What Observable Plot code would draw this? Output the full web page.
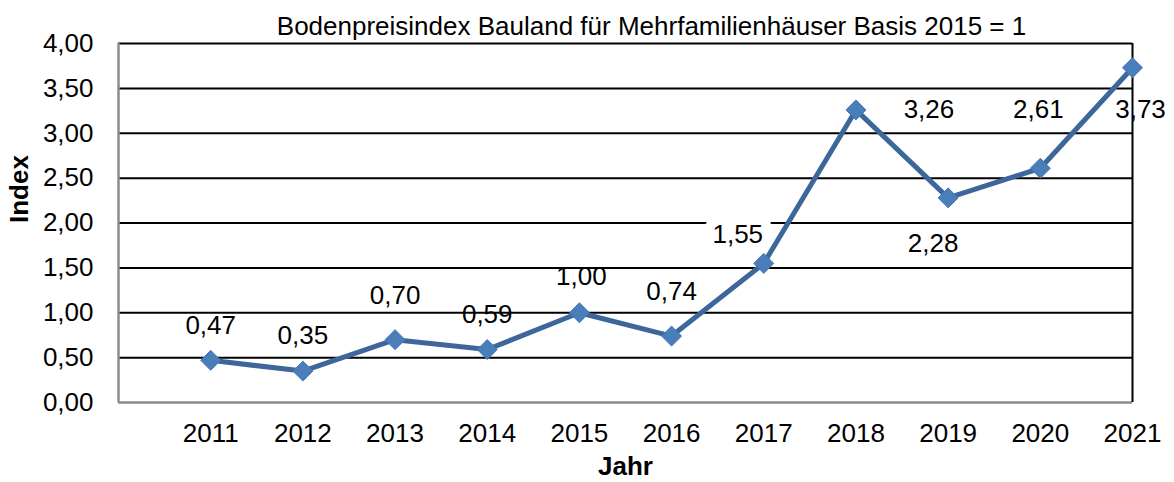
<!DOCTYPE html>
<html>
<head>
<meta charset="utf-8">
<script src="https://cdn.jsdelivr.net/npm/d3@7"></script>
<script src="https://cdn.jsdelivr.net/npm/@observablehq/plot@0.6"></script>
<style>
  html, body { margin: 0; padding: 0; background: #fff; }
  svg { display: block; }
</style>
</head>
<body>
<div id="chart"></div>
<script>
const titleText = "Bodenpreisindex Bauland für Mehrfamilienhäuser Basis 2015 = 1";
const xLabel = "Jahr";
const yLabel = "Index";
const years = [2011, 2012, 2013, 2014, 2015, 2016, 2017, 2018, 2019, 2020, 2021];
const values = [0.47, 0.35, 0.70, 0.59, 1.00, 0.74, 1.55, 3.26, 2.28, 2.61, 3.73];
const yTicks = [0, 0.5, 1, 1.5, 2, 2.5, 3, 3.5, 4];
// label placement offsets (px) for the value labels
const labelDx = [0, 0, 0, 0, 2, 0, -26, 73, -15, -2, 8];
const labelDy = [-35, -35, -44, -35, -36, -44, -29, 0, 46, -59, 42];
const labelHalo = [false, false, false, false, false, false, true, false, false, false, false];

const fmt = v => v.toFixed(2).replace(".", ",");
const data = years.map((y, i) => ({year: y, value: values[i]}));

const FONT = "Liberation Sans, Arial, sans-serif";
const FS = 26;

const labelMarks = data.map((d, i) => Plot.text([d], {
  x: "year", y: "value", text: d => fmt(d.value),
  dx: labelDx[i], dy: labelDy[i], fontSize: FS, fill: "#000", lineAnchor: "middle",
  ...(labelHalo[i] ? {stroke: "#fff", strokeWidth: 20, strokeLinejoin: "round", paintOrder: "stroke"} : {})
}));

const chart = Plot.plot({
  width: 1174,
  height: 482,
  marginLeft: 118,
  marginRight: 42,
  marginTop: 43,
  marginBottom: 80,
  style: {fontFamily: FONT, background: "#fff", overflow: "visible"},
  x: {type: "linear", domain: [2010, 2021]},
  y: {domain: [0, 4]},
  marks: [
    Plot.ruleY(yTicks.filter(t => t > 0), {y: d => d, stroke: "#000", strokeWidth: 2}),
    Plot.ruleY([0], {stroke: "#8c8c8c", strokeWidth: 2.5}),
    Plot.ruleX([2010], {stroke: "#8c8c8c", strokeWidth: 2.5}),
    Plot.ruleX([2021], {stroke: "#000", strokeWidth: 2}),
    Plot.axisY({ticks: yTicks, tickFormat: fmt, tickSize: 0, tickPadding: 25, fontSize: FS, label: null}),
    Plot.axisX({ticks: years, tickFormat: d => String(d), tickSize: 0, tickPadding: 21, fontSize: FS, label: null}),
    ...labelMarks.filter((m, i) => labelHalo[i]),
    Plot.line(data, {x: "year", y: "value", stroke: "#3d679b", strokeWidth: 5}),
    Plot.dot(data, {x: "year", y: "value", symbol: "diamond2", r: 9, fill: "#4a7ebb", stroke: "#4677b2", strokeWidth: 1}),
    ...labelMarks.filter((m, i) => !labelHalo[i]),
    Plot.text([titleText], {frameAnchor: "top", lineAnchor: "middle", dx: 26, dy: -17, fontSize: FS, fill: "#000"}),
    Plot.text([yLabel], {frameAnchor: "left", lineAnchor: "middle", dx: -99, rotate: -90, fontSize: FS, fontWeight: "bold", fill: "#000"}),
    Plot.text([xLabel], {frameAnchor: "bottom", lineAnchor: "middle", dy: 64, fontSize: FS, fontWeight: "bold", fill: "#000"})
  ]
});
document.getElementById("chart").appendChild(chart);
</script>
</body>
</html>
